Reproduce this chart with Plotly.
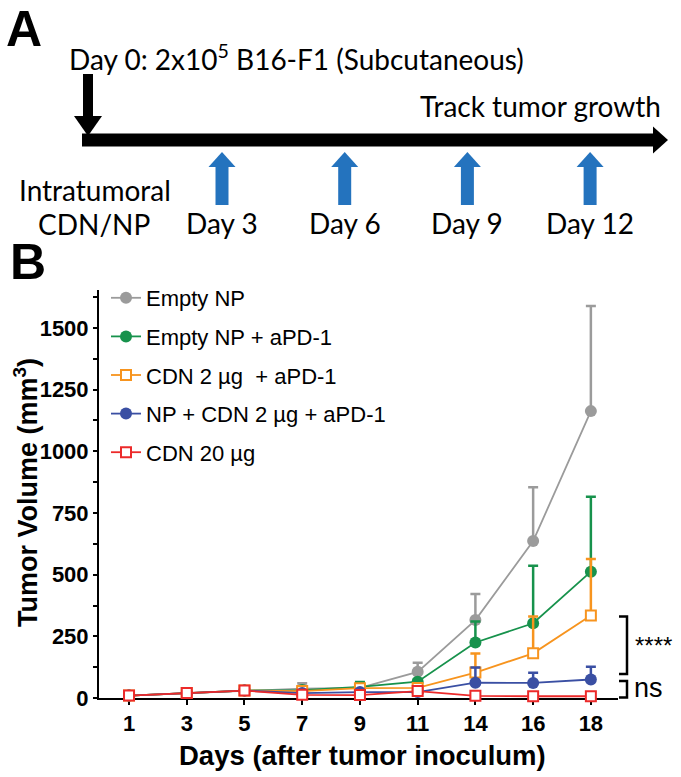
import plotly.graph_objects as go

# ---------------- data ----------------
days = ["1", "3", "5", "7", "9", "11", "14", "16", "18"]
series_names = ["Empty NP", "Empty NP + aPD-1", "CDN 2 µg  + aPD-1",
                "NP + CDN 2 µg + aPD-1", "CDN 20 µg"]
empty_np = [10, 20, 30, 38, 41, 106, 316, 636, 1163]
empty_np_err = [3, 3, 4, 22, 10, 37, 106, 218, 426]
empty_np_apd1 = [10, 20, 30, 32, 45, 66, 225, 303, 512]
empty_np_apd1_err = [3, 3, 4, 8, 20, 10, 85, 233, 304]
cdn2_apd1 = [10, 20, 30, 28, 40, 41, 103, 181, 334]
cdn2_apd1_err = [3, 3, 4, 6, 8, 8, 77, 149, 229]
np_cdn2_apd1 = [10, 20, 30, 20, 24, 24, 62, 61, 75]
np_cdn2_apd1_err = [3, 3, 4, 5, 6, 6, 62, 41, 52]
cdn20 = [10, 20, 30, 13, 12, 28, 9, 7, 7]
cdn20_err = [3, 3, 4, 4, 4, 5, 3, 2, 2]
stars_bracket = [97, 330]
ns_bracket = [2, 69]
treatment_days = [3, 6, 9, 12]

# ---------------- layout helpers ----------------
W, H = 681, 777
PL, PR, PT, PB = 99, 63, 290, 79
PW, PH = W - PL - PR, H - PT - PB
YMAX = 1654


def px(x):
    return (x - PL) / PW


def py(y):
    return (H - PB - y) / PH


def vy(v):
    return v / YMAX


colors = ["#9B9B9B", "#17924C", "#F7941E", "#3A4FA3", "#EC2A2A"]
values = [empty_np, empty_np_apd1, cdn2_apd1, np_cdn2_apd1, cdn20]
errors = [empty_np_err, empty_np_apd1_err, cdn2_apd1_err, np_cdn2_apd1_err, cdn20_err]
symbols = ["circle", "circle", "square", "circle", "square"]

fig = go.Figure()
xs = list(range(len(days)))
for i, name in enumerate(series_names):
    c = colors[i]
    if symbols[i] == "circle":
        mk = dict(symbol="circle", size=12, color=c, line=dict(width=0))
    else:
        mk = dict(symbol="square", size=10, color="white", line=dict(color=c, width=2))
    fig.add_trace(go.Scatter(
        x=xs, y=values[i], name=name, mode="lines+markers",
        line=dict(color=c, width=1.8), marker=mk,
        error_y=dict(type="data", array=errors[i], arrayminus=[0] * len(days),
                     symmetric=False, color=c, thickness=2.5, width=5),
        legendgroup="g%d" % i, cliponaxis=False,
    ))

font_ax = dict(family="Arial, Liberation Sans", size=22, color="black", weight="bold")
fig.update_layout(
    width=W, height=H,
    margin=dict(l=PL, r=PR, t=PT, b=PB, pad=0),
    paper_bgcolor="white", plot_bgcolor="white",
    showlegend=True,
    legend=dict(x=px(106), y=py(277), xanchor="left", yanchor="top",
                font=dict(family="Arial, Liberation Sans", size=22, color="black"),
                tracegroupgap=7, bgcolor="rgba(0,0,0,0)", itemwidth=30),
    xaxis=dict(range=[-0.52, 8.47], tickmode="array", tickvals=xs, ticktext=days,
               showline=True, linecolor="black", linewidth=2, showgrid=False,
               zeroline=False, ticks="outside", ticklen=5, tickwidth=2,
               tickcolor="black", tickfont=font_ax, layer="below traces"),
    yaxis=dict(range=[0, YMAX], tickmode="array", tickvals=[0, 250, 500, 750, 1000, 1250, 1500],
               showline=True, linecolor="black", linewidth=2, showgrid=False,
               zeroline=False, ticks="outside", ticklen=4, tickwidth=2,
               tickcolor="black", tickfont=font_ax,
               minor=dict(dtick=125, tick0=0, ticks="outside", ticklen=4,
                          tickwidth=2, tickcolor="black", showgrid=False)),
)

ann = []
# axis titles
ann.append(dict(text="Days (after tumor inoculum)", x=px(362), y=py(755), xref="paper", yref="paper",
                showarrow=False, xanchor="center", yanchor="middle",
                font=dict(family="Arial, Liberation Sans", size=27.5, color="black", weight="bold")))
ann.append(dict(text="Tumor Volume (mm<sup>3</sup>)", x=px(26), y=py(493), xref="paper", yref="paper",
                showarrow=False, xanchor="center", yanchor="middle", textangle=-90,
                font=dict(family="Arial, Liberation Sans", size=27, color="black", weight="bold")))
# significance
ann.append(dict(text="****", x=px(633), y=vy(sum(stars_bracket) / 2), xref="paper", yref="paper",
                showarrow=False, xanchor="left", yanchor="middle",
                font=dict(family="Arial, Liberation Sans", size=24, color="black")))
ann.append(dict(text="ns", x=px(632), y=vy(sum(ns_bracket) / 2) + 0.004, xref="paper", yref="paper",
                showarrow=False, xanchor="left", yanchor="middle",
                font=dict(family="Arial, Liberation Sans", size=27, color="black")))
# panel letters
ann.append(dict(text="A", x=px(4), y=py(29), xref="paper", yref="paper", showarrow=False,
                xanchor="left", yanchor="middle",
                font=dict(family="Arial, Liberation Sans", size=50, color="black", weight="bold")))
ann.append(dict(text="B", x=px(8), y=py(262), xref="paper", yref="paper", showarrow=False,
                xanchor="left", yanchor="middle",
                font=dict(family="Arial, Liberation Sans", size=50, color="black", weight="bold")))
# panel A texts
fa = dict(family="Lato, Open Sans", size=28, color="black")
ann.append(dict(text="Day 0: 2x10<sup>5</sup> B16-F1 (Subcutaneous)", x=px(67), y=py(57),
                xref="paper", yref="paper", showarrow=False, xanchor="left", yanchor="middle", font=fa))
ann.append(dict(text="Track tumor growth", x=px(663), y=py(106),
                xref="paper", yref="paper", showarrow=False, xanchor="right", yanchor="middle", font=fa))
ann.append(dict(text="Intratumoral", x=px(95), y=py(190),
                xref="paper", yref="paper", showarrow=False, xanchor="center", yanchor="middle", font=fa))
ann.append(dict(text="CDN/NP", x=px(94), y=py(224),
                xref="paper", yref="paper", showarrow=False, xanchor="center", yanchor="middle", font=fa))


def day_x(d):
    return 222 + (d - 3) * 40.9


shapes = []
blue = "#2473BE"
for d in treatment_days:
    xc = day_x(d)
    ann.append(dict(text="Day %d" % d, x=px(xc), y=py(223), xref="paper", yref="paper",
                    showarrow=False, xanchor="center", yanchor="middle", font=fa))
    shapes.append(dict(type="path", xref="paper", yref="paper", fillcolor=blue, line=dict(width=0),
                       path="M%f,%f L%f,%f L%f,%f Z" % (px(xc - 13.5), py(167), px(xc + 13.5), py(167),
                                                        px(xc), py(152))))
    shapes.append(dict(type="rect", xref="paper", yref="paper", fillcolor=blue, line=dict(width=0),
                       x0=px(xc - 6.5), x1=px(xc + 6.5), y0=py(166), y1=py(205)))

# timeline
shapes.append(dict(type="rect", xref="paper", yref="paper", fillcolor="black", line=dict(width=0),
                   x0=px(82), x1=px(654), y0=py(133.5), y1=py(146.5)))
shapes.append(dict(type="path", xref="paper", yref="paper", fillcolor="black", line=dict(width=0),
                   path="M%f,%f L%f,%f L%f,%f Z" % (px(653), py(126.5), px(653), py(153.5),
                                                    px(668), py(140))))
shapes.append(dict(type="rect", xref="paper", yref="paper", fillcolor="black", line=dict(width=0),
                   x0=px(83), x1=px(93), y0=py(74), y1=py(117)))
shapes.append(dict(type="path", xref="paper", yref="paper", fillcolor="black", line=dict(width=0),
                   path="M%f,%f L%f,%f L%f,%f Z" % (px(74), py(116), px(102), py(116),
                                                    px(88), py(136))))

# significance brackets
for (lo, hi) in [stars_bracket, ns_bracket]:
    shapes.append(dict(type="path", xref="paper", yref="paper", line=dict(color="black", width=2.5),
                       path="M%f,%f L%f,%f L%f,%f L%f,%f" % (px(619), vy(hi), px(627), vy(hi),
                                                             px(627), vy(lo), px(619), vy(lo))))

fig.update_layout(annotations=ann, shapes=shapes)
fig.write_html("out.html", config={"displayModeBar": False},
               post_script="document.body.style.margin='0';")
